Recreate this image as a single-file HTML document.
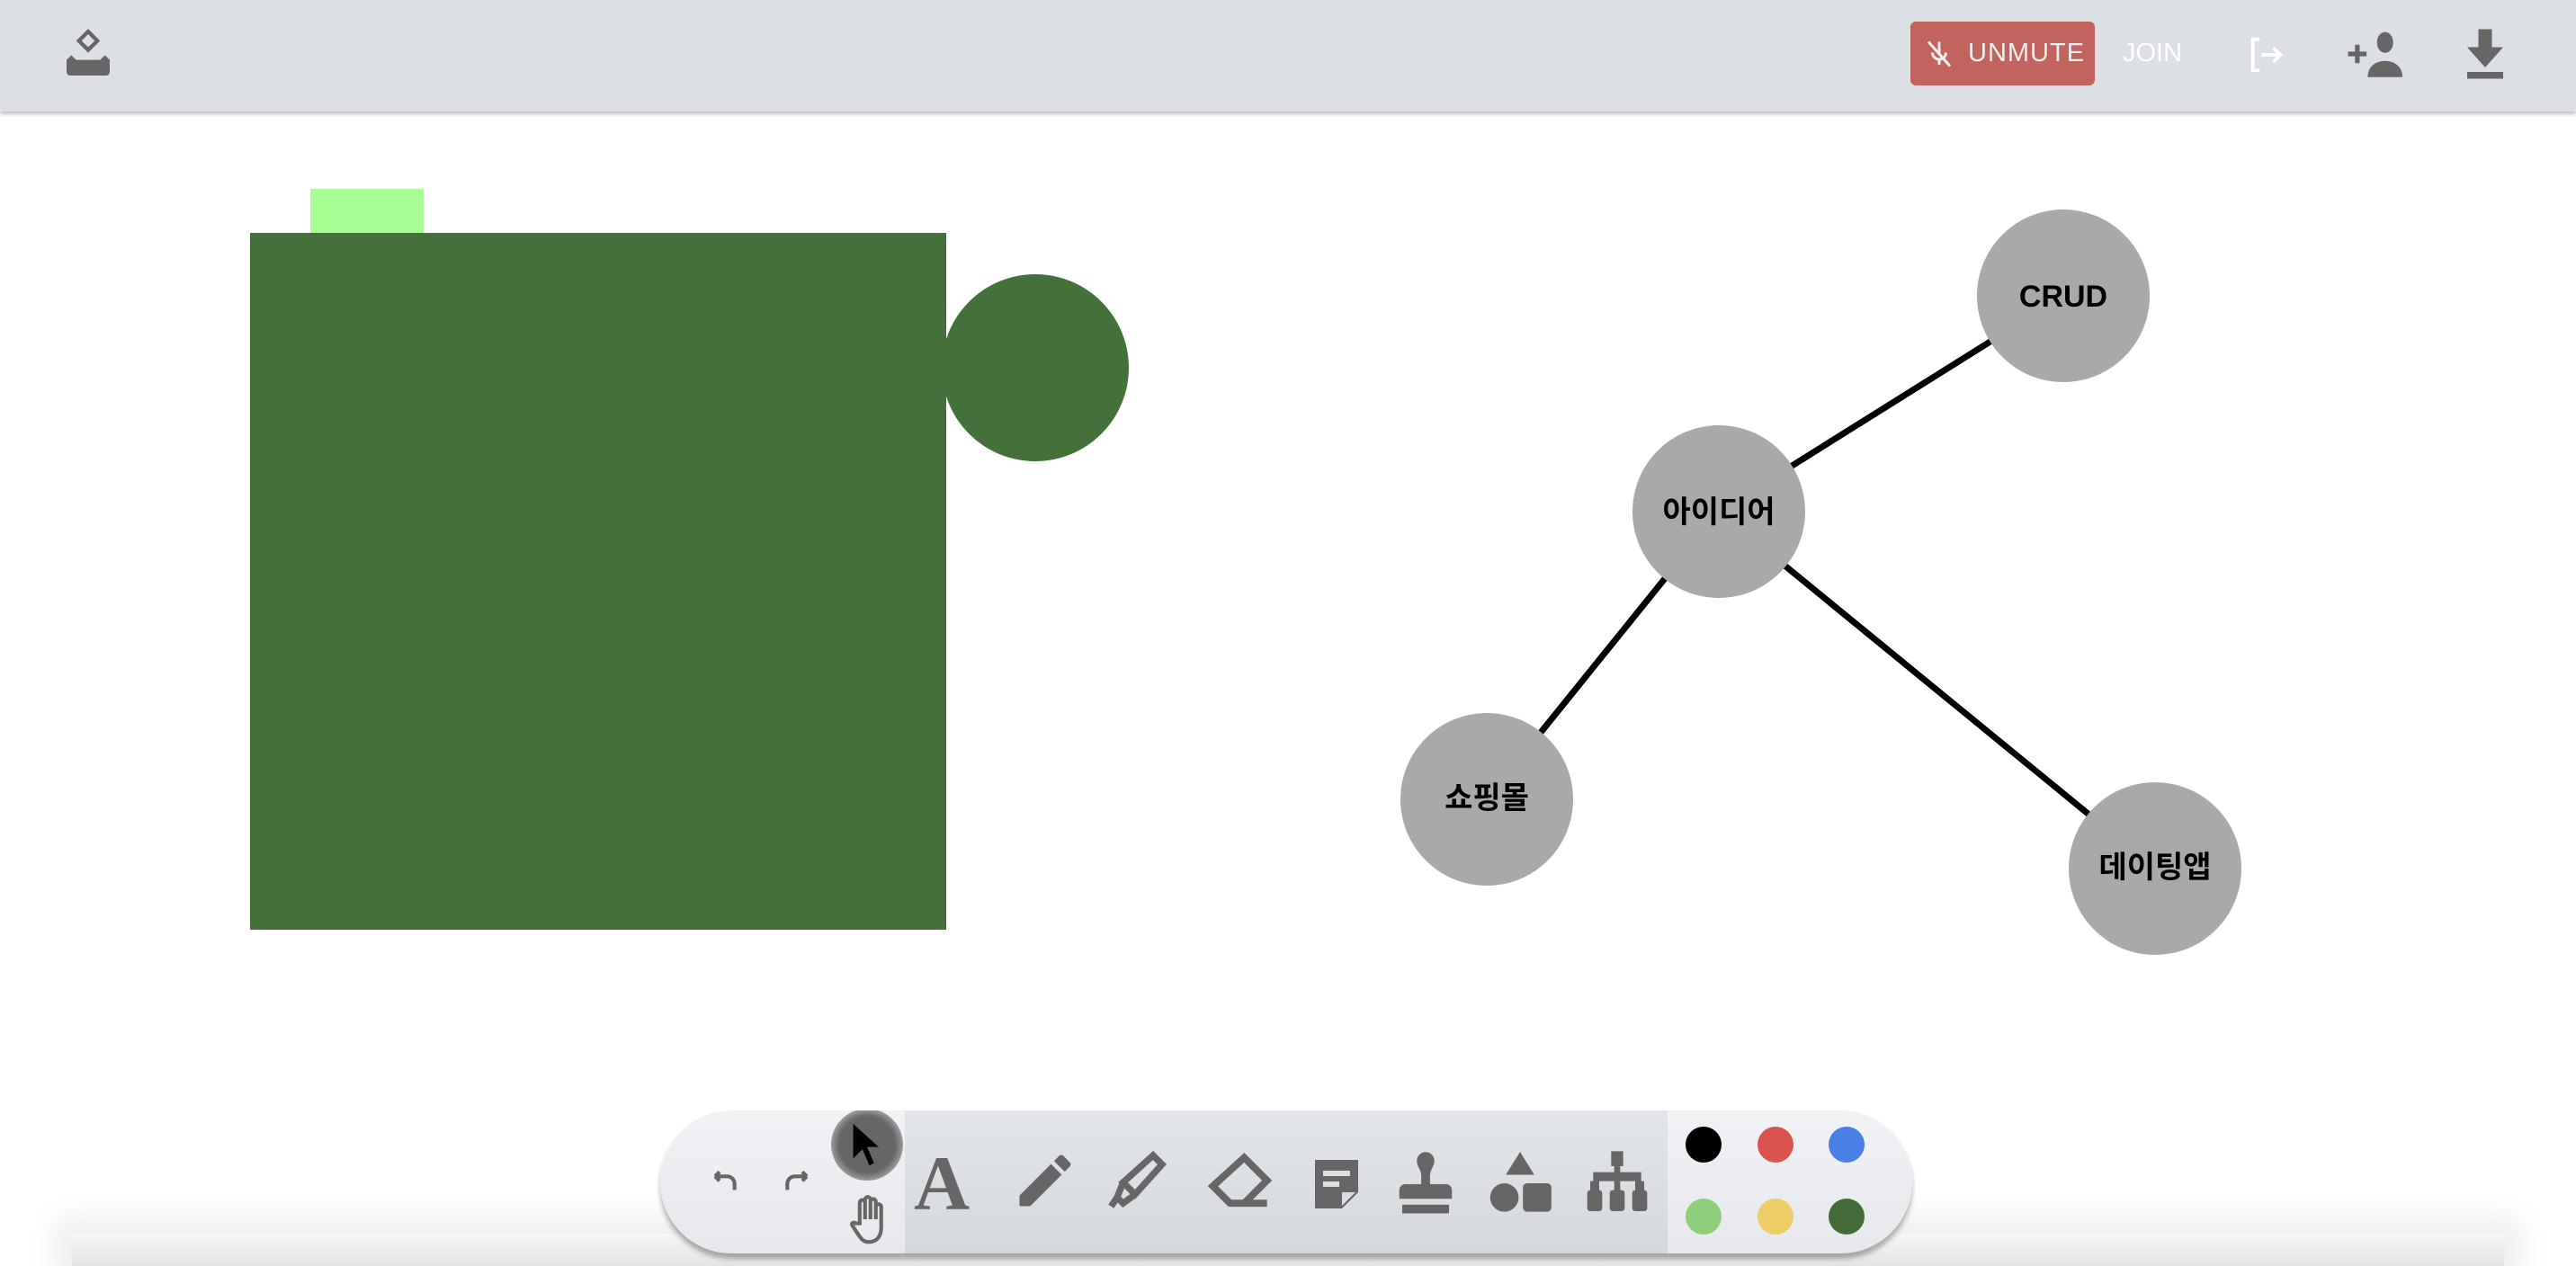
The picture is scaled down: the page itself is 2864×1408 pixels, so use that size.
<!DOCTYPE html>
<html><head><meta charset="utf-8"><style>
html,body{margin:0;padding:0;width:2864px;height:1408px;overflow:hidden;background:#fff;font-family:"Liberation Sans","Noto Sans CJK KR",sans-serif}
.hdr{position:absolute;left:0;top:0;width:2864px;height:124px;background:#dcdfe3;box-shadow:0 3px 4px rgba(0,0,0,0.25)}
.abs{position:absolute}
.btm{position:absolute;left:80px;right:80px;top:1372px;height:36px;background:linear-gradient(#f6f6f6,#e4e4e4);box-shadow:0 0 30px 20px #f0f0f0}
.tb{position:absolute;left:734px;top:1235px;width:1392px;height:159px;border-radius:80px;background:linear-gradient(#f1f2f5,#e6e8ec);box-shadow:0 6px 6px rgba(0,0,0,0.3);overflow:hidden}
.mid{position:absolute;left:272px;top:0;width:848px;height:159px;background:linear-gradient(#e2e5e9,#d5d8dc)}
.dot{position:absolute;width:40px;height:40px;border-radius:50%}
</style></head><body>
<div class="btm"></div>
<div class="hdr">
 <svg class="abs" style="left:66px;top:28px" width="64" height="64" viewBox="0 0 24 24"><path fill="#666" fill-rule="evenodd" d="M12 1.5l5 5-5 5-5-5zM12 3.8L9.3 6.5 12 9.2 14.7 6.5z"/><path fill="#666" d="M3 14.5l2-2 2 2h10l2-2 2 2v5a1.5 1.5 0 0 1-1.5 1.5h-15A1.5 1.5 0 0 1 3 19.5z"/></svg>
 <div class="abs" style="left:2124px;top:24px;width:205px;height:71px;background:#c1645e;border-radius:6px"></div>
 <svg class="abs" style="left:2138px;top:40px" width="36" height="40" viewBox="0 0 24 24"><path fill="none" stroke="#eee" stroke-width="2" d="M12 3v9M7 11a5 5 0 0 0 10 0M12 16v4M4 3l16 18"/></svg>
 <div class="abs" style="left:2188px;top:43px;font-size:29px;color:#eee;letter-spacing:1px">UNMUTE</div>
 <div class="abs" style="left:2360px;top:43px;font-size:29px;color:#fff">JOIN</div>
 <svg class="abs" style="left:2496px;top:38px" width="48" height="46" viewBox="0 0 24 24"><path fill="none" stroke="#fff" stroke-width="2" d="M8 3H4v18h4M9 12h11M16 8l4 4-4 4"/></svg>
 <svg class="abs" style="left:2608px;top:34px" width="72" height="52" viewBox="0 0 28 20"><path fill="#666" d="M4 6h2v3h3v2H6v3H4v-3H1V9h3z"/><ellipse cx="17" cy="5" rx="3.5" ry="4.5" fill="#666"/><path fill="#666" d="M9.5 20c0-5 4-7 7.5-7s7.5 2 7.5 7z"/></svg>
 <svg class="abs" style="left:2738px;top:32px" width="50" height="56" viewBox="0 0 20 22"><path fill="#666" d="M7 0h6v8h5l-8 9-8-9h5zM2 19h16v3H2z"/></svg>
</div>
<div class="abs" style="left:345px;top:210px;width:126px;height:50px;background:#aafd95"></div>
<div class="abs" style="left:278px;top:259px;width:774px;height:775px;background:#44703a"></div>
<div class="abs" style="left:1047px;top:305px;width:208px;height:208px;border-radius:50%;background:#44703a"></div>
<svg class="abs" style="left:0;top:0" width="2864" height="1408">
 <g stroke="#000" stroke-width="7"><line x1="1911" y1="569" x2="2294" y2="329"/><line x1="1911" y1="569" x2="1653" y2="889"/><line x1="1911" y1="569" x2="2396" y2="966"/></g>
 <g fill="#a9a9a9"><circle cx="2294" cy="329" r="96"/><circle cx="1911" cy="569" r="96"/><circle cx="1653" cy="889" r="96"/><circle cx="2396" cy="966" r="96"/></g>
 <g font-family="Liberation Sans, Noto Sans CJK KR, sans-serif" font-weight="bold" font-size="34" text-anchor="middle" fill="#000">
 <text x="2294" y="341">CRUD</text><text x="1911" y="581">아이디어</text><text x="1653" y="899">쇼핑몰</text><text x="2396" y="976">데이팅앱</text></g>
</svg>
<div class="tb">
 <div class="mid"></div>
 <svg class="abs" style="left:50px;top:60px" width="42" height="40" viewBox="0 0 24 24"><path fill="none" stroke="#666" stroke-width="2.5" d="M6 8h8a5 5 0 0 1 5 5v4M6 8l3-3M6 8l3 3"/></svg>
 <svg class="abs" style="left:132px;top:60px" width="42" height="40" viewBox="0 0 24 24"><path fill="none" stroke="#666" stroke-width="2.5" d="M18 8h-8a5 5 0 0 0-5 5v4M18 8l-3-3M18 8l-3 3"/></svg>
 <div class="abs" style="left:190px;top:-2px;width:80px;height:80px;border-radius:50%;background:radial-gradient(#666 55%,#fff 100%)"></div>
 <svg class="abs" style="left:212px;top:12px" width="36" height="52" viewBox="0 0 14 20"><path fill="#000" d="M1 1v15l4-4 3 7 2-1-3-7h5z"/></svg>
 <svg class="abs" style="left:208px;top:92px" width="46" height="58" viewBox="0 0 20 24"><path fill="none" stroke="#666" stroke-width="1.8" d="M6 14V4a1.3 1.3 0 0 1 2.6 0v8V2.5a1.3 1.3 0 0 1 2.6 0V12V3.5a1.3 1.3 0 0 1 2.6 0V12V6a1.3 1.3 0 0 1 2.6 0v10c0 4-2 7-6 7-3 0-4-2-6-5l-2-3c-.7-1 .8-2 1.6-1z"/></svg>
 <div class="abs" style="left:282px;top:38px;font:bold 86px 'Liberation Serif',serif;color:#666;line-height:1">A</div>
 <svg class="abs" style="left:390px;top:40px" width="76" height="76" viewBox="0 0 24 24"><path fill="#666" d="M3 17.25V21h3.75L17.8 9.94l-3.75-3.75zM20.7 7.04a1 1 0 0 0 0-1.41l-2.34-2.34a1 1 0 0 0-1.41 0l-1.83 1.83 3.75 3.75z"/></svg>
 <svg class="abs" style="left:488px;top:40px" width="80" height="80" viewBox="0 0 24 24"><path fill="none" stroke="#666" stroke-width="2.2" d="M18 3l3 3-9 10-4-4zM8 12l-2 5 2 2 4-3M6 17l-2 3"/></svg>
 <svg class="abs" style="left:605px;top:46px" width="76" height="70" viewBox="0 0 24 22"><path fill="none" stroke="#666" stroke-width="2.5" d="M14 2l8 8-8 8H9l-6-6zM9 18h13"/></svg>
 <svg class="abs" style="left:722px;top:52px" width="60" height="60" viewBox="0 0 20 20"><path fill="#666" d="M2 1h16v12l-6 6H2zM5 5h10v2H5zM5 9h6v2H5zM12 18v-5h5z" fill-rule="evenodd"/></svg>
 <svg class="abs" style="left:812px;top:42px" width="78" height="80" viewBox="0 0 24 24"><path fill="#666" d="M12 1a3 3 0 0 1 3 3c0 2-1.5 3-1.5 5v3H19a2 2 0 0 1 2 2v3H3v-3a2 2 0 0 1 2-2h5.5V9C10.5 7 9 6 9 4a3 3 0 0 1 3-3zM4 19h16v3H4z"/></svg>
 <svg class="abs" style="left:918px;top:42px" width="76" height="78" viewBox="0 0 24 24"><path fill="#666" d="M12 1l5 8H7z"/><circle cx="6.5" cy="17" r="5" fill="#666"/><rect x="13" y="12" width="10" height="10" rx="1.5" fill="#666"/></svg>
 <svg class="abs" style="left:1024px;top:42px" width="80" height="80" viewBox="0 0 24 24"><path fill="#666" d="M10 1h4v5h-1v2h7v3h1v5h-3v-5h-5v5h-2v-5H6v5H3v-5h1V8h7V6h-1z"/><rect x="2" y="14" width="5" height="7" rx="1" fill="#666"/><rect x="9.5" y="14" width="5" height="7" rx="1" fill="#666"/><rect x="17" y="14" width="5" height="7" rx="1" fill="#666"/></svg>
 <div class="dot" style="left:1140px;top:18px;background:#000"></div>
 <div class="dot" style="left:1220px;top:18px;background:#d9534f"></div>
 <div class="dot" style="left:1299px;top:18px;background:#4a7fe8"></div>
 <div class="dot" style="left:1140px;top:98px;background:#8dcf7b"></div>
 <div class="dot" style="left:1220px;top:98px;background:#efcd66"></div>
 <div class="dot" style="left:1299px;top:98px;background:#426b37"></div>
</div>
</body></html>
